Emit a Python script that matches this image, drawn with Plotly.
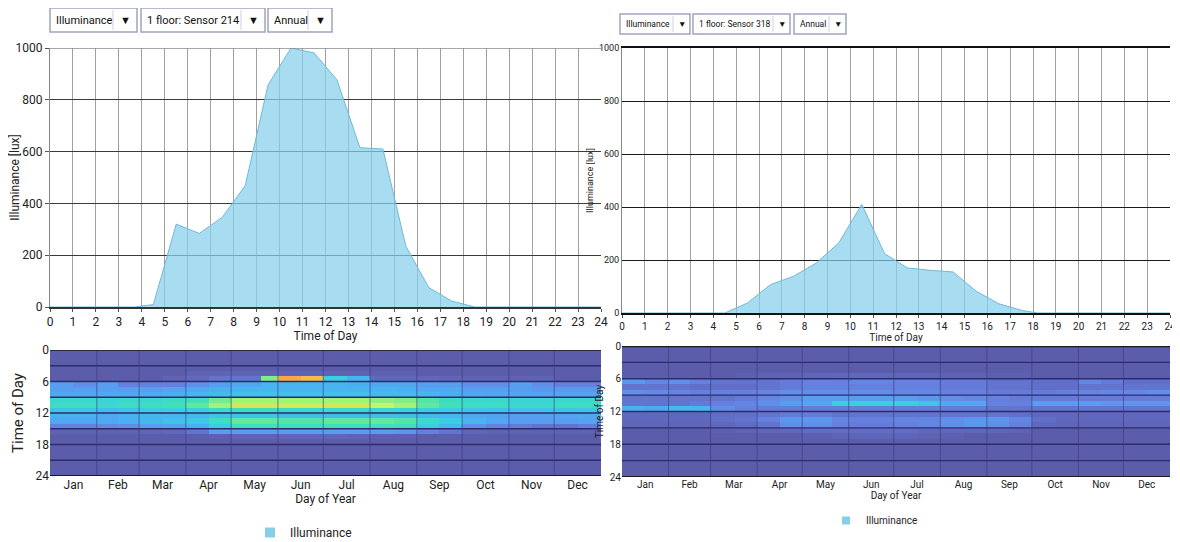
import plotly.graph_objects as go

# ---------------- data ----------------
hours_left = [0, 3.7, 4, 4.5, 5.5, 6.5, 7.5, 8.5, 9.5, 10.5, 11.5, 12.5, 13.5, 14.5, 15.5, 16.5, 17.5, 18, 18.5, 24]
lux_left = [0, 0, 4, 9, 320, 284, 346, 468, 858, 1000, 981, 877, 615, 610, 235, 75, 23, 10, 0, 0]

hours_right = [0, 4.5, 5.5, 6.5, 7.5, 8.5, 9.5, 10.5, 11.5, 12.5, 13.5, 14.5, 15.5, 16.5, 17.5, 18.2, 24]
lux_right = [0, 0, 38, 107, 138, 188, 265, 410, 224, 170, 161, 155, 83, 35, 10, 0, 0]

hour_ticks = list(range(0, 25))
lux_ticks = [0, 200, 400, 600, 800, 1000]

month_names = ["Jan", "Feb", "Mar", "Apr", "May", "Jun", "Jul", "Aug", "Sep", "Oct", "Nov", "Dec"]
month_lengths = [31, 28, 31, 30, 31, 30, 31, 31, 30, 31, 30, 31]

# heatmap column edges (day of year) and row edges (hour of day)
seg_days = [0, 15, 31, 45, 59, 75, 90, 105, 120, 140, 151, 166, 181, 197, 212, 228, 243, 258, 273, 289, 304, 319, 334, 350, 365]
hour_edges = list(range(0, 25))

# intensity level (0..10) per hour row, per segment — sensor 214
heat_left = [
    [0] * 24, [0] * 24, [0] * 24, [0] * 24,
    [0, 0, 0, 0, 0, 0, .5, .5, .5, .5, .5, .5, .5, .5, .3, .3, 0, 0, 0, 0, 0, 0, 0, 0],
    [0, 0, 0, 0, 0, .5, 1, 1.5, 1.5, 7, 10, 9.5, 5, 4, 1, 1, 1, .8, .5, .5, .5, .5, 0, 0],
    [3, 2.5, 3, 2, 2, 2, 2.5, 3, 3.5, 4, 4, 4, 4, 3.8, 3.5, 3.5, 3, 3, 2.5, 2.5, 3, 2.5, 2, 2],
    [3, 3, 3, 3, 3, 3.2, 3.5, 3.8, 4, 4, 4, 4, 4, 4, 4, 3.8, 3.5, 3.5, 3, 3, 3, 2.8, 2.8, 2.8],
    [3.5, 3.5, 3.5, 3.5, 3.6, 3.8, 4, 4.3, 4.5, 4.5, 4.5, 4.5, 4.5, 4.5, 4.3, 4.2, 4, 3.8, 3.5, 3.3, 3.3, 3.2, 3.2, 3.2],
    [5.5, 5.5, 5.3, 5.5, 5.5, 5.8, 6, 6.8, 7.5, 7.5, 7.5, 7.5, 7.5, 7.5, 7.2, 7, 6.3, 5.8, 5.5, 5.5, 5.3, 5.3, 5.5, 5.5],
    [5.8, 5.8, 5.5, 5.8, 5.8, 6, 6.5, 7.5, 8.5, 8.5, 8.3, 8.3, 8.5, 8.5, 8, 7.5, 6.5, 6, 5.8, 5.8, 5.5, 5.5, 5.8, 5.8],
    [4.5, 4.5, 4.3, 4.5, 4.8, 5, 5, 5.5, 5.8, 5.8, 5.5, 5.5, 5.5, 5.5, 5.3, 5.2, 5, 4.8, 4.5, 4.5, 4.5, 4.5, 4.5, 4.5],
    [3.8, 3.8, 3.5, 3.8, 4, 4, 4.2, 4.5, 4.5, 4.5, 4.3, 4.3, 4.3, 4.3, 4.3, 4.3, 4.2, 4, 3.5, 3.2, 3, 3, 3.2, 3.5],
    [3.5, 3.5, 3.5, 3.8, 4.2, 4.5, 4.8, 5.8, 6.5, 6.5, 6.3, 6.3, 6.5, 6.5, 6.5, 6.3, 5.5, 5, 4, 3.5, 3, 3, 3, 3.2],
    [2, 2, 2.3, 2.5, 3, 3.2, 3.8, 5, 6, 6, 5.8, 5.8, 6, 6, 6, 5.8, 5, 4.2, 2.5, 2, 1.8, 1.5, 1.5, 1.8],
    [.5, .5, .5, .5, .8, 1, 1.5, 3, 3, 3, 3, 3, 3, 3, 3, 2.8, 2, 1.5, .8, .5, .5, .5, .5, .5],
    [0, 0, 0, 0, 0, 0, 0, .3, .5, .5, .8, .8, .8, .5, .3, .3, 0, 0, 0, 0, 0, 0, 0, 0],
    [0] * 24, [0] * 24, [0] * 24, [0] * 24, [0] * 24, [0] * 24, [0] * 24,
]

# sensor 318
heat_right = [
    [0] * 24, [0] * 24, [0] * 24, [0] * 24, [0] * 24,
    [0, 0, 0, 0, 0, .3, .5, .5, .8, 1, 1, 1, .8, .8, .5, .5, .3, .3, 0, 0, 0, 0, 0, 0],
    [2.8, 2.2, 2.5, 2, 1.5, 1.5, 1.5, 1.8, 2, 2, 2.2, 2.2, 2, 2, 1.8, 1.8, 1.5, 1.5, 1.3, 1.3, 2.2, 1.8, 1.3, 1.3],
    [1.5, 1.5, 1.5, 1.3, 1.3, 1.3, 1.5, 1.8, 2, 2, 2, 2, 2, 2, 1.8, 1.8, 1.5, 1.5, 1.3, 1.3, 1.5, 1.5, 1.5, 1.5],
    [2.5, 2.3, 2.2, 2, 2, 2, 2.2, 2.5, 2.5, 2.5, 2.5, 2.5, 2.3, 2.3, 2, 2, 1.8, 1.8, 1.8, 2, 2.2, 2.3, 2.3, 2.5],
    [1.5, 1.5, 1.5, 1.5, 1.5, 1.8, 2.2, 2.5, 3, 3, 3, 3, 3, 2.8, 2.5, 2.3, 2, 1.8, 1.8, 1.8, 1.8, 1.8, 1.8, 1.8],
    [1.5, 1.5, 1.5, 1.8, 2, 2.2, 2.5, 3, 3.5, 5, 5, 5, 5, 4.5, 3.5, 3.5, 2, 2, 3, 3, 3, 2.8, 2.8, 2.8],
    [3.8, 3.5, 4.2, 4, 2.5, 2, 1.8, 1.8, 1.8, 1.8, 1.8, 1.8, 1.8, 1.8, 1.8, 1.8, 1.5, 1.5, 1.5, 1.5, 1.5, 1.5, 1.5, 1.5],
    [1, 1, 1, 1, 1.2, 1.3, 1.5, 1.8, 1.8, 1.5, 1.5, 1.5, 1.5, 1.5, 1.5, 1.5, 1.5, 1.3, 1, 1, 1, 1, 1, 1],
    [1, 1, 1, 1, 1.3, 1.5, 2, 2.8, 2.8, 2.2, 2, 2, 2.2, 2.2, 2.5, 2.8, 2.8, 2.2, 1.3, 1, 1, 1, 1, 1],
    [.8, .8, .8, .8, 1, 1.2, 1.5, 2.5, 2.5, 2, 1.8, 1.8, 2, 2.2, 2.5, 2.8, 2.5, 2, 1, .8, .8, .8, .8, .8],
    [0, 0, 0, 0, .3, .5, .8, 1, 1.2, 1.2, 1.2, 1.2, 1.2, 1, 1, 1, .8, .5, 0, 0, 0, 0, 0, 0],
    [0, 0, 0, 0, 0, 0, 0, 0, .3, .5, .8, .8, .8, .5, .3, 0, 0, 0, 0, 0, 0, 0, 0, 0],
    [0] * 24, [0] * 24, [0] * 24, [0] * 24, [0] * 24, [0] * 24, [0] * 24,
]

heat_ticks = [0, 6, 12, 18, 24]
heat_grid_hours = [3, 6, 9, 12, 15, 18, 21]

dropdown_labels_left = ["Illuminance", "1 floor: Sensor 214", "Annual"]
dropdown_labels_right = ["Illuminance", "1 floor: Sensor 318", "Annual"]

# ---------------- styling ----------------
FONT = "Roboto, sans-serif"
TXT = "#222222"
colorscale = [
    [0.00, "#5c5daa"],
    [0.10, "#6068bd"],
    [0.20, "#6680e0"],
    [0.30, "#579ef0"],
    [0.40, "#48b4f0"],
    [0.50, "#3acfe0"],
    [0.60, "#40e0b8"],
    [0.70, "#80ee88"],
    [0.80, "#c0f760"],
    [0.90, "#f0d050"],
    [1.00, "#f8a848"],
]

month_starts = [0]
for m in month_lengths:
    month_starts.append(month_starts[-1] + m)
month_mids = [(month_starts[i] + month_starts[i + 1]) / 2 for i in range(12)]

# the page body adds an 8px offset; size the figure so it fills the 1180x542 window
OFF = 8
W, H = 1180 - OFF, 542 - OFF


def px_x(p):
    return (p - OFF) / W


def px_y(p):
    return 1 - (p - OFF) / H


fig = go.Figure()

fig.add_trace(go.Scatter(
    x=hours_left, y=lux_left, mode="lines", fill="tozeroy",
    line=dict(color="#72b8d8", width=1), fillcolor="rgba(135,206,235,0.72)",
    name="Illuminance", showlegend=False, xaxis="x", yaxis="y", hoverinfo="skip"))
fig.add_trace(go.Scatter(
    x=hours_right, y=lux_right, mode="lines", fill="tozeroy",
    line=dict(color="#72b8d8", width=1), fillcolor="rgba(135,206,235,0.72)",
    name="Illuminance", showlegend=False, xaxis="x2", yaxis="y2", hoverinfo="skip"))
# legend keys (square swatches like the original)
fig.add_trace(go.Scatter(
    x=[None], y=[None], mode="markers", name="Illuminance", legend="legend",
    marker=dict(symbol="square", size=10, color="#87ceeb"), xaxis="x", yaxis="y"))
fig.add_trace(go.Scatter(
    x=[None], y=[None], mode="markers", name="Illuminance", legend="legend2",
    marker=dict(symbol="square", size=8, color="#87ceeb"), xaxis="x2", yaxis="y2"))
fig.add_trace(go.Heatmap(
    z=heat_left, x=seg_days, y=hour_edges, colorscale=colorscale, zmin=0, zmax=10,
    showscale=False, xaxis="x3", yaxis="y3", hoverinfo="skip"))
fig.add_trace(go.Heatmap(
    z=heat_right, x=seg_days, y=hour_edges, colorscale=colorscale, zmin=0, zmax=10,
    showscale=False, xaxis="x4", yaxis="y4", hoverinfo="skip"))

# heatmap grid lines drawn above the cells
for xr, yr in (("x3", "y3"), ("x4", "y4")):
    for h in heat_grid_hours:
        fig.add_shape(type="line", xref=xr, yref=yr, x0=0, x1=365, y0=h, y1=h,
                      line=dict(color="#2c2c6c", width=1.3), layer="above")
    for d in month_starts[1:-1]:
        fig.add_shape(type="line", xref=xr, yref=yr, x0=d, x1=d, y0=0, y1=24,
                      line=dict(color="rgba(55,55,120,0.6)", width=1), layer="above")
    fig.add_shape(type="line", xref=xr, yref=yr, x0=0, x1=365, y0=24, y1=24,
                  line=dict(color="#1a1a1a", width=2), layer="above")
    fig.add_shape(type="line", xref=xr, yref=yr, x0=0, x1=365, y0=0, y1=0,
                  line=dict(color="#1a1a1a", width=1.5 if xr == "x3" else 2.5), layer="above")

# top line of the left area chart is lighter than its inner grid lines
fig.add_shape(type="line", xref="x", yref="y", x0=0, x1=24, y0=1000, y1=1000,
              line=dict(color="#8a8a8a", width=1.5), layer="above")


# dropdown-like selector boxes (static)
def add_dropdowns(labels, lefts, rights, top, bottom, size, arrow_w):
    for lab, x0, x1 in zip(labels, lefts, rights):
        fig.add_shape(type="rect", xref="paper", yref="paper",
                      x0=px_x(x0), x1=px_x(x1), y0=px_y(bottom), y1=px_y(top),
                      line=dict(color="#9ea4bc", width=1.5), fillcolor="white")
        fig.add_shape(type="line", xref="paper", yref="paper",
                      x0=px_x(x1 - arrow_w), x1=px_x(x1 - arrow_w), y0=px_y(bottom - 2), y1=px_y(top + 2),
                      line=dict(color="#d0d3de", width=1))
        fig.add_annotation(text=lab, xref="paper", yref="paper", x=px_x(x0 + 4),
                           y=px_y((top + bottom) / 2), xanchor="left", yanchor="middle",
                           showarrow=False, font=dict(size=size, color="#111"))
        fig.add_annotation(text="▼", xref="paper", yref="paper", x=px_x(x1 - arrow_w / 2),
                           y=px_y((top + bottom) / 2), xanchor="center", yanchor="middle",
                           showarrow=False, font=dict(size=size, color="#111"))


add_dropdowns(dropdown_labels_left, [50, 141, 268], [137, 265, 332], 8, 32, 11, 24)
add_dropdowns(dropdown_labels_right, [620, 693, 794], [690, 790, 846], 14, 34, 8.5, 17)

L_dom = [px_x(50), px_x(601)]
R_dom = [px_x(622), px_x(1170)]

common_x = dict(range=[0, 24], tickvals=hour_ticks, showgrid=True, gridcolor="#a0a0a0",
                gridwidth=1, zeroline=False, ticks="outside", ticklen=3, tickcolor="#555",
                automargin=False)
fig.update_layout(
    width=W, height=H, margin=dict(l=0, r=0, t=0, b=0, autoexpand=False),
    paper_bgcolor="white", plot_bgcolor="white",
    font=dict(family=FONT, color=TXT),
    xaxis=dict(domain=L_dom, anchor="y", **common_x,
               showline=True, linecolor="#333", linewidth=1.5,
               tickfont=dict(size=12), title=dict(text="Time of Day", font=dict(size=12), standoff=2)),
    yaxis=dict(domain=[px_y(307), px_y(48)], anchor="x", range=[0, 1000], tickvals=lux_ticks,
               showgrid=True, gridcolor="#3a3a3a", gridwidth=1, zeroline=False, automargin=False,
               showline=True, linecolor="#888", ticks="outside", ticklen=4, tickcolor="#555",
               tickfont=dict(size=12), title=dict(text="Illuminance [lux]", font=dict(size=12), standoff=6)),
    xaxis2=dict(domain=R_dom, anchor="y2", **common_x,
                showline=True, mirror=True, linecolor="#111", linewidth=2,
                tickfont=dict(size=10), title=dict(text="Time of Day", font=dict(size=10), standoff=0)),
    yaxis2=dict(domain=[px_y(313), px_y(48)], anchor="x2", range=[0, 1000], tickvals=lux_ticks,
                showgrid=True, gridcolor="#1a1a1a", gridwidth=1, zeroline=False, automargin=False,
                showline=True, linecolor="#888", ticks="", tickfont=dict(size=9),
                title=dict(text="Illuminance [lux]", font=dict(size=9), standoff=3)),
    xaxis3=dict(domain=L_dom, anchor="y3", range=[0, 365], tickvals=month_mids, ticktext=month_names,
                showgrid=False, zeroline=False, ticks="", tickfont=dict(size=12), automargin=False,
                title=dict(text="Day of Year", font=dict(size=12), standoff=2)),
    yaxis3=dict(domain=[px_y(476), px_y(350)], anchor="x3", range=[24, 0], tickvals=heat_ticks,
                showgrid=False, zeroline=False, ticks="", tickfont=dict(size=12), automargin=False,
                title=dict(text="Time of Day", font=dict(size=15), standoff=8)),
    xaxis4=dict(domain=R_dom, anchor="y4", range=[0, 365], tickvals=month_mids, ticktext=month_names,
                showgrid=False, zeroline=False, ticks="", tickfont=dict(size=10), automargin=False,
                title=dict(text="Day of Year", font=dict(size=10), standoff=0)),
    yaxis4=dict(domain=[px_y(477), px_y(346)], anchor="x4", range=[24, 0], tickvals=heat_ticks,
                showgrid=False, zeroline=False, ticks="", tickfont=dict(size=10), automargin=False,
                title=dict(text="Time of Day", font=dict(size=10), standoff=4)),
    legend=dict(x=px_x(250), y=px_y(518), xanchor="left", yanchor="top", orientation="h",
                font=dict(size=12), bgcolor="rgba(0,0,0,0)"),
    legend2=dict(x=px_x(826), y=px_y(506), xanchor="left", yanchor="top", orientation="h",
                 font=dict(size=10), bgcolor="rgba(0,0,0,0)"),
)

fig.write_html("out.html")
